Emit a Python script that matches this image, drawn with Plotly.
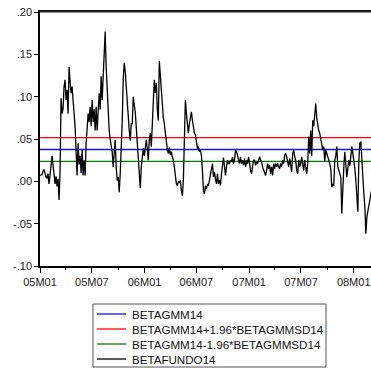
import pandas as pd
import plotly.graph_objects as go

# Fund beta, sampled every 3.5 days from the start of 2005
beta_fundo = [
    0.007, 0.008, 0.008, 0.012, 0.014, 0.010, 0.005, 0.004, 0.009, -0.003,
    0.012, 0.018, 0.030, 0.019, 0.006, -0.003, 0.006, -0.006, 0.003, -0.022,
    0.012, 0.098, 0.080, 0.086, 0.112, 0.120, 0.096, 0.108, 0.080, 0.135,
    0.118, 0.104, 0.112, 0.088, 0.080, 0.064, 0.033, 0.007, 0.045, 0.020,
    0.030, 0.010, 0.037, 0.007, 0.025, 0.007, 0.045, 0.060, 0.080, 0.070,
    0.088, 0.065, 0.096, 0.070, 0.085, 0.060, 0.088, 0.060, 0.090, 0.104,
    0.085, 0.124, 0.096, 0.128, 0.150, 0.177, 0.135, 0.104, 0.080, 0.060,
    0.050, 0.040, 0.035, 0.017, 0.041, 0.049, 0.017, 0.001, 0.005, -0.013,
    0.009, 0.033, 0.070, 0.120, 0.140, 0.130, 0.110, 0.090, 0.076, 0.060,
    0.048, 0.068, 0.068, 0.100, 0.090, 0.082, 0.064, 0.045, 0.033, 0.017,
    -0.008, 0.017, 0.033, 0.039, 0.030, 0.037, 0.049, 0.038, 0.025, 0.049,
    0.057, 0.041, 0.072, 0.104, 0.120, 0.104, 0.116, 0.084, 0.072, 0.142,
    0.125, 0.100, 0.085, 0.075, 0.068, 0.057, 0.050, 0.037, 0.033, 0.040,
    0.031, 0.035, 0.029, 0.025, 0.017, 0.009, -0.003, -0.005, 0.000, -0.002,
    0.001, -0.011, -0.017, 0.002, 0.041, 0.096, 0.080, 0.064, 0.057, 0.068,
    0.075, 0.082, 0.072, 0.060, 0.057, 0.055, 0.049, 0.039, 0.041, 0.035,
    0.037, 0.030, 0.013, -0.011, -0.015, -0.005, -0.009, -0.004, -0.005, 0.001,
    0.005, 0.013, 0.021, 0.005, 0.011, 0.003, -0.003, 0.009, -0.003, 0.001,
    -0.005, 0.009, 0.021, 0.028, 0.017, 0.007, 0.017, 0.025, 0.021, 0.021,
    0.025, 0.023, 0.029, 0.021, 0.025, 0.037, 0.035, 0.031, 0.025, 0.021,
    0.029, 0.021, 0.025, 0.019, 0.027, 0.017, 0.025, 0.021, 0.029, 0.019,
    0.013, 0.009, 0.021, 0.025, 0.025, 0.019, 0.023, 0.021, 0.025, 0.029,
    0.025, 0.023, 0.017, 0.013, 0.009, 0.007, 0.013, 0.021, 0.015, 0.019,
    0.009, 0.017, 0.007, 0.021, 0.015, 0.021, 0.017, 0.021, 0.017, 0.015,
    0.021, 0.017, 0.025, 0.021, 0.031, 0.033, 0.029, 0.021, 0.017, 0.027,
    0.021, 0.011, 0.033, 0.037, 0.029, 0.025, 0.013, 0.009, 0.025, 0.017,
    0.021, 0.029, 0.021, 0.013, 0.025, 0.017, 0.009, 0.021, 0.053, 0.033,
    0.060, 0.030, 0.072, 0.065, 0.080, 0.092, 0.075, 0.064, 0.060, 0.057,
    0.049, 0.039, 0.037, 0.041, 0.023, 0.037, 0.034, 0.029, 0.025, 0.021,
    0.015, -0.007, -0.003, -0.005, 0.025, 0.030, 0.041, 0.017, 0.012, 0.009,
    0.005, -0.038, 0.005, 0.017, 0.035, 0.020, 0.005, 0.015, 0.025, 0.018,
    0.029, 0.041, 0.033, 0.025, 0.015, 0.001, -0.015, -0.036, 0.025, 0.045,
    0.047, 0.021, 0.005, -0.015, -0.030, -0.062, -0.042, -0.034, -0.026, -0.023,
    -0.015, -0.009,
]

# GMM beta estimate and its standard deviation
beta_gmm = 0.0376
beta_gmm_sd = 0.0071

series_start = "2005-01-01"
sample_step = "84h"

y_tick_values = [-0.10, -0.05, 0.00, 0.05, 0.10, 0.15, 0.20]
y_tick_labels = ["-.10", "-.05", ".00", ".05", ".10", ".15", ".20"]

names = [
    "BETAGMM14",
    "BETAGMM14+1.96*BETAGMMSD14",
    "BETAGMM14-1.96*BETAGMMSD14",
    "BETAFUNDO14",
]
colors = ["rgb(20,20,255)", "rgb(255,0,0)", "rgb(0,128,0)", "rgb(0,0,0)"]
widths = [1.3, 1.3, 1.3, 1.3]

dates = pd.date_range(series_start, periods=len(beta_fundo), freq=sample_step)
span = [dates[0], dates[-1]]
upper = beta_gmm + 1.96 * beta_gmm_sd
lower = beta_gmm - 1.96 * beta_gmm_sd
series = [
    (span, [beta_gmm, beta_gmm]),
    (span, [upper, upper]),
    (span, [lower, lower]),
    (dates, beta_fundo),
]

# Figure geometry (pixels)
W, H = 371, 368
M_L, M_R, M_T, M_B = 40, 0, 12, 102
plot_w = W - M_L - M_R
plot_h = H - M_T - M_B


def px_x(px):
    return (px - M_L) / plot_w


def px_y(py):
    return (H - M_B - py) / plot_h


font_family = "Liberation Sans, Arial, sans-serif"

fig = go.Figure()
for name, color, width, (xs, ys) in zip(names, colors, widths, series):
    fig.add_trace(go.Scatter(x=xs, y=ys, mode="lines", name=name,
                             line=dict(color=color, width=width)))

# Boxed key below the plot: one short line sample and one label per series
box_left, box_right, box_top, box_bottom = 93, 326, 304, 367
row_y = [314, 329, 344, 359]
shapes = [
    dict(type="rect", xref="paper", yref="paper",
         x0=px_x(box_left), x1=px_x(box_right),
         y0=px_y(box_bottom), y1=px_y(box_top),
         line=dict(color="#555555", width=1), fillcolor="white", layer="above"),
    # heavier frame line along the top edge of the plot area
    dict(type="line", xref="paper", yref="paper",
         x0=0, x1=1, y0=px_y(11.5), y1=px_y(11.5),
         line=dict(color="#222222", width=2), layer="above"),
]
annotations = []
for name, color, ry in zip(names, colors, row_y):
    shapes.append(dict(type="line", xref="paper", yref="paper",
                       x0=px_x(97), x1=px_x(126), y0=px_y(ry), y1=px_y(ry),
                       line=dict(color=color, width=1.3), layer="above"))
    annotations.append(dict(xref="paper", yref="paper", x=px_x(129.5), y=px_y(ry),
                            xanchor="left", yanchor="middle", text=name,
                            showarrow=False,
                            font=dict(family=font_family, size=11.6, color="#111111")))

fig.update_layout(
    width=W,
    height=H,
    margin=dict(l=M_L, r=M_R, t=M_T, b=M_B, autoexpand=False),
    paper_bgcolor="white",
    plot_bgcolor="white",
    font=dict(family=font_family, size=11, color="#222222"),
    showlegend=False,
    shapes=shapes,
    annotations=annotations,
    xaxis=dict(
        type="date",
        range=["2005-01-01", "2008-03-01 10:00"],
        tick0="2005-01-01",
        dtick="M6",
        tickformat="%yM%m",
        ticks="outside",
        ticklen=5,
        tickcolor="#000000",
        showline=True,
        linecolor="#000000",
        linewidth=1.5,
        mirror=True,
        showgrid=False,
        zeroline=False,
        minor=dict(dtick="M3", ticks="outside", ticklen=2.5, tickcolor="#000000"),
    ),
    yaxis=dict(
        range=[-0.10, 0.20],
        tickvals=y_tick_values,
        ticktext=y_tick_labels,
        ticks="outside",
        ticklen=4,
        tickcolor="#000000",
        showline=True,
        linecolor="#000000",
        linewidth=1.5,
        showgrid=False,
        zeroline=False,
    ),
)

fig.write_html("out.html")
